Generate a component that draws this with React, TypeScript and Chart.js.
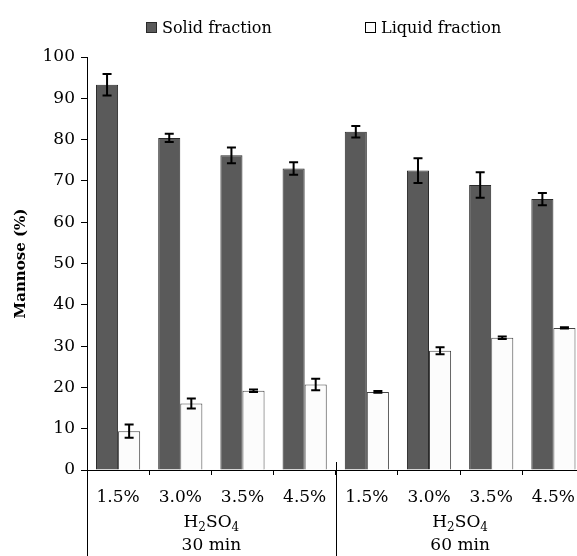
import React, { useEffect, useRef } from "react";
import { Chart, registerables } from "chart.js";

Chart.register(...registerables);

const categories = ["1.5%", "3.0%", "3.5%", "4.5%", "1.5%", "3.0%", "3.5%", "4.5%"];
const groupLabels = ["30 min", "60 min"];
const solidValues = [93.3, 80.4, 76.2, 73.0, 81.9, 72.5, 69.0, 65.6];
const solidErrors = [2.6, 1.0, 1.9, 1.5, 1.4, 3.0, 3.1, 1.5];
const liquidValues = [9.4, 16.1, 19.2, 20.7, 18.9, 28.9, 32.0, 34.4];
const liquidErrors = [1.6, 1.2, 0.3, 1.4, 0.2, 0.85, 0.3, 0.15];
const seriesNames = ["Solid fraction", "Liquid fraction"];

const FONT = "'DejaVu Serif', serif";
const SOLID_FILL = "#5a5a5a";
const SOLID_BORDER = "#2a2a2a";
const LIQUID_FILL = "#fcfcfc";
const LIQUID_BORDER = "#444444";

const errorBarPlugin = {
  id: "errorBars",
  afterDatasetsDraw(chart: any) {
    const ctx = chart.ctx;
    const y = chart.scales.y;
    const errs = [solidErrors, liquidErrors];
    ctx.save();
    ctx.strokeStyle = "#000";
    ctx.lineWidth = 2;
    chart.data.datasets.forEach((ds: any, di: number) => {
      const meta = chart.getDatasetMeta(di);
      meta.data.forEach((el: any, i: number) => {
        const v = ds.data[i];
        const e = errs[di][i];
        const x = el.x;
        const yt = y.getPixelForValue(v + e);
        const yb = y.getPixelForValue(v - e);
        const cap = 4.5;
        ctx.beginPath();
        ctx.moveTo(x, yt);
        ctx.lineTo(x, yb);
        ctx.moveTo(x - cap, yt);
        ctx.lineTo(x + cap, yt);
        ctx.moveTo(x - cap, yb);
        ctx.lineTo(x + cap, yb);
        ctx.stroke();
      });
    });
    ctx.restore();
  },
};

const decorPlugin = {
  id: "decor",
  afterDraw(chart: any) {
    const ctx = chart.ctx;
    const area = chart.chartArea;
    const xs = chart.scales.x;
    const H = chart.height;
    ctx.save();
    // y axis extension and group divider
    ctx.strokeStyle = "#000";
    ctx.lineWidth = 1;
    ctx.beginPath();
    ctx.moveTo(area.left + 0.5, area.bottom);
    ctx.lineTo(area.left + 0.5, H);
    const mid = (xs.getPixelForValue(3) + xs.getPixelForValue(4)) / 2;
    ctx.moveTo(Math.round(mid) + 0.5, area.bottom - 8);
    ctx.lineTo(Math.round(mid) + 0.5, H);
    ctx.stroke();

    // group labels
    ctx.fillStyle = "#000";
    ctx.textBaseline = "alphabetic";
    const centers = [
      (area.left + mid) / 2,
      (mid + xs.getPixelForValue(7) + (xs.getPixelForValue(7) - xs.getPixelForValue(6)) / 2) / 2,
    ];
    centers.forEach((cx, gi) => {
      // H2SO4 with subscripts
      const big = "17px " + FONT;
      const small = "12px " + FONT;
      const parts = [
        { t: "H", f: big, dy: 0 },
        { t: "2", f: small, dy: 4 },
        { t: "SO", f: big, dy: 0 },
        { t: "4", f: small, dy: 4 },
      ];
      let total = 0;
      parts.forEach((p) => {
        ctx.font = p.f;
        total += ctx.measureText(p.t).width;
      });
      let x = cx - total / 2;
      ctx.textAlign = "left";
      parts.forEach((p) => {
        ctx.font = p.f;
        ctx.fillText(p.t, x, 527 + p.dy);
        x += ctx.measureText(p.t).width;
      });
      ctx.font = "17px " + FONT;
      ctx.textAlign = "center";
      ctx.fillText(groupLabels[gi], cx, 550);
    });

    // legend
    ctx.font = "16px " + FONT;
    ctx.textAlign = "left";
    const items = [
      { x: 146, fill: SOLID_FILL, border: SOLID_BORDER, label: seriesNames[0] },
      { x: 365, fill: LIQUID_FILL, border: "#000", label: seriesNames[1] },
    ];
    items.forEach((it) => {
      ctx.fillStyle = it.fill;
      ctx.fillRect(it.x, 22, 10, 10);
      ctx.strokeStyle = it.border;
      ctx.lineWidth = 1;
      ctx.strokeRect(it.x + 0.5, 22.5, 10, 10);
      ctx.fillStyle = "#000";
      ctx.fillText(it.label, it.x + 16, 33);
    });
    ctx.restore();
  },
};

export default function App() {
  const ref = useRef<HTMLCanvasElement>(null);
  useEffect(() => {
    if (!ref.current) return;
    Chart.defaults.font.family = FONT;
    Chart.defaults.color = "#000";
    const chart = new Chart(ref.current, {
      type: "bar",
      data: {
        labels: categories,
        datasets: [
          {
            label: seriesNames[0],
            data: solidValues,
            backgroundColor: SOLID_FILL,
            borderColor: SOLID_BORDER,
            borderWidth: 1,
            categoryPercentage: 0.71,
            barPercentage: 1,
          },
          {
            label: seriesNames[1],
            data: liquidValues,
            backgroundColor: LIQUID_FILL,
            borderColor: LIQUID_BORDER,
            borderWidth: 1,
            categoryPercentage: 0.71,
            barPercentage: 1,
          },
        ],
      },
      options: {
        responsive: false,
        animation: false,
        layout: { padding: { top: 57, right: 0, bottom: 0, left: 0 } },
        plugins: {
          legend: { display: false },
          tooltip: { enabled: false },
        },
        scales: {
          x: {
            grid: {
              offset: true,
              drawOnChartArea: false,
              tickLength: 5,
              color: "#000",
            },
            border: { display: true, color: "#000", width: 1 },
            ticks: { font: { size: 17, family: FONT }, padding: 12, color: "#000", maxRotation: 0, autoSkip: false },
            afterFit: (s: any) => {
              s.height = 86;
            },
          },
          y: {
            min: 0,
            max: 100,
            ticks: { stepSize: 10, font: { size: 17, family: FONT }, padding: 6, color: "#000" },
            grid: { drawOnChartArea: false, tickLength: 6, color: "#000" },
            border: { display: true, color: "#000", width: 1 },
            title: {
              display: true,
              text: "Mannose (%)",
              font: { size: 15, weight: "bold", family: FONT },
              padding: { top: 12, bottom: 0 },
              color: "#000",
            },
            afterFit: (s: any) => {
              s.width = 87;
            },
          },
        },
      },
      plugins: [errorBarPlugin, decorPlugin],
    });
    return () => chart.destroy();
  }, []);
  return (
    <div
      style={{
        position: "fixed",
        left: 0,
        top: 0,
        width: 577,
        height: 556,
        overflow: "hidden",
        background: "#fff",
      }}
    >
      <canvas ref={ref} width={587} height={556} style={{ display: "block" }} />
    </div>
  );
}
